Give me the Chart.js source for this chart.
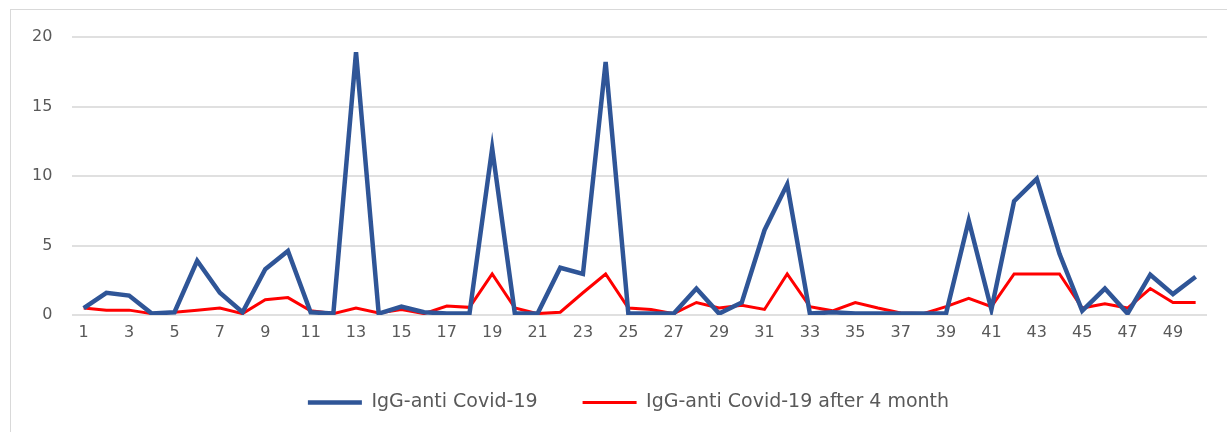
<!DOCTYPE html>
<html>
<head>
<meta charset="utf-8">
<script src="https://cdn.jsdelivr.net/npm/chart.js@4/dist/chart.umd.min.js"></script>
<style>
  html, body { margin: 0; padding: 0; background: #fff; }
  #frame { position: absolute; left: 10px; top: 9px; width: 1240px; height: 440px; border: 1px solid #d9d9d9; }
  #wrap { position: absolute; left: 0; top: 0; width: 1227px; height: 432px; }
</style>
</head>
<body>
<div id="frame"></div>
<div id="wrap"><canvas id="chart"></canvas></div>
<script>
// sample numbers 1..50
const samples = [
  1, 2, 3, 4, 5, 6, 7, 8, 9, 10,
  11, 12, 13, 14, 15, 16, 17, 18, 19, 20,
  21, 22, 23, 24, 25, 26, 27, 28, 29, 30,
  31, 32, 33, 34, 35, 36, 37, 38, 39, 40,
  41, 42, 43, 44, 45, 46, 47, 48, 49, 50
];

const igg = [
  0.5, 1.6, 1.4, 0.1, 0.2, 3.9, 1.6, 0.2, 3.3, 4.6,
  0.2, 0.1, 18.9, 0.1, 0.6, 0.2, 0.1, 0.1, 12.0, 0.1,
  0.1, 3.4, 2.95, 18.2, 0.1, 0.1, 0.1, 1.9, 0.1, 0.9,
  6.1, 9.4, 0.1, 0.2, 0.1, 0.1, 0.1, 0.1, 0.1, 6.8,
  0.4, 8.2, 9.8, 4.4, 0.3, 1.9, 0.1, 2.9, 1.5, 2.75
];

const iggAfter4 = [
  0.5, 0.35, 0.35, 0.1, 0.2, 0.35, 0.5, 0.1, 1.1, 1.25,
  0.3, 0.1, 0.5, 0.15, 0.4, 0.1, 0.65, 0.55, 2.95, 0.5,
  0.1, 0.2, 1.6, 2.95, 0.5, 0.4, 0.1, 0.9, 0.5, 0.7,
  0.4, 2.95, 0.6, 0.3, 0.9, 0.5, 0.15, 0.1, 0.6, 1.2,
  0.6, 2.95, 2.95, 2.95, 0.5, 0.8, 0.5, 1.9, 0.9, 0.9
];

const seriesNames = ["IgG-anti Covid-19", "IgG-anti Covid-19 after 4 month"];

const textColor = "#595959";
const gridColor = "#e0e0e0";
const fontFamily = "'DejaVu Sans', sans-serif";

// nudge the legend a bit right, it sits centred under the whole frame
const legendShift = {
  id: "legendShift",
  afterLayout(chart) {
    chart.legend.left += 19;
    chart.legend.right += 19;
  }
};

const ctx = document.getElementById("chart").getContext("2d");

new Chart(ctx, {
  type: "line",
  data: {
    labels: samples,
    datasets: [
      {
        label: seriesNames[0],
        data: igg,
        borderColor: "#2f5597",
        backgroundColor: "#2f5597",
        borderWidth: 4.5,
        pointRadius: 0,
        tension: 0,
        pointStyle: "line"
      },
      {
        label: seriesNames[1],
        data: iggAfter4,
        borderColor: "#ff0000",
        backgroundColor: "#ff0000",
        borderWidth: 3,
        pointRadius: 0,
        tension: 0,
        pointStyle: "line"
      }
    ]
  },
  options: {
    responsive: true,
    maintainAspectRatio: false,
    animation: false,
    layout: {
      padding: { top: 37, left: 12, right: 20, bottom: 10 }
    },
    plugins: {
      tooltip: { enabled: false },
      legend: {
        position: "bottom",
        labels: {
          usePointStyle: true,
          pointStyleWidth: 54,
          padding: 45,
          color: textColor,
          font: { family: fontFamily, size: 19 }
        }
      }
    },
    scales: {
      x: {
        offset: true,
        grid: { display: false, drawTicks: false },
        border: { display: false },
        ticks: {
          autoSkip: false,
          maxRotation: 0,
          padding: 8,
          color: textColor,
          font: { family: fontFamily, size: 16 },
          // only every other sample is labelled
          callback: function (val, i) {
            return i % 2 === 0 ? this.getLabelForValue(val) : "";
          }
        },
        afterFit: (scale) => { scale.height = 33; }
      },
      y: {
        min: 0,
        max: 20,
        grid: { color: gridColor, lineWidth: 2, drawTicks: false },
        border: { display: false },
        ticks: {
          stepSize: 5,
          padding: 20,
          color: textColor,
          font: { family: fontFamily, size: 16 }
        }
      }
    }
  },
  plugins: [legendShift]
});
</script>
</body>
</html>
